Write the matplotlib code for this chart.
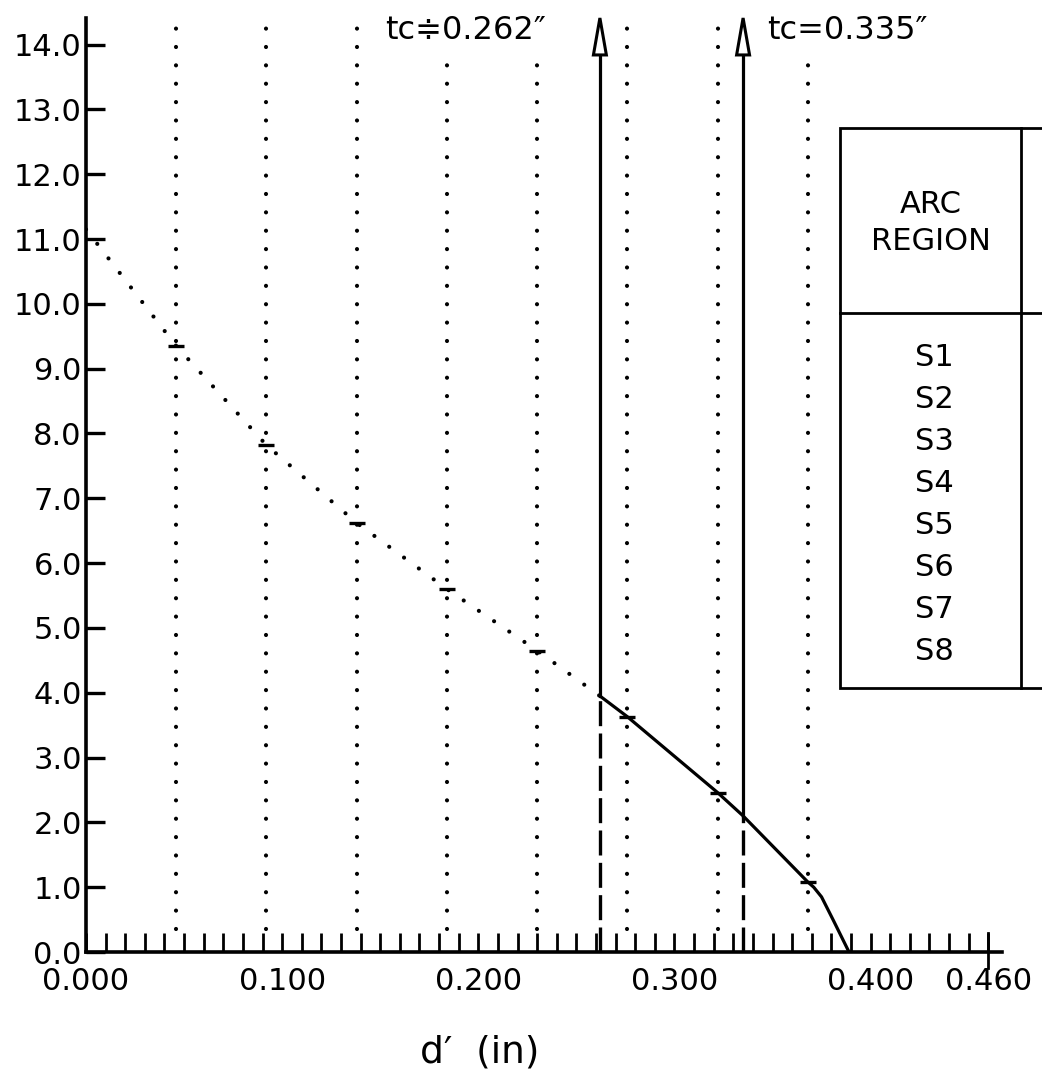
import matplotlib
matplotlib.use("Agg")
import matplotlib.pyplot as plt
from matplotlib.patches import Polygon, Rectangle
import numpy as np

plt.rcParams['font.family'] = ['DejaVu Sans']

# ---- data ----
region_labels = ["S1", "S2", "S3", "S4", "S5", "S6", "S7", "S8"]
boundary_x = [0.046, 0.092, 0.138, 0.184, 0.230, 0.276, 0.322, 0.368]
boundary_y = [9.35, 7.82, 6.62, 5.60, 4.65, 3.63, 2.46, 1.08]

# extrapolated (dotted) part of curve
dotted_x = [0.000, 0.046, 0.092, 0.138, 0.184, 0.230, 0.262]
dotted_y = [11.15, 9.35, 7.82, 6.62, 5.60, 4.65, 3.95]
# solid part of curve
solid_x = [0.262, 0.276, 0.322, 0.335, 0.368, 0.371, 0.375, 0.381, 0.389]
solid_y = [3.95, 3.63, 2.46, 2.10, 1.08, 1.00, 0.85, 0.49, 0.00]

tc_values = [0.262, 0.335]
tc_curve_y = [3.95, 2.10]
tc_labels = ["tc\u22510.262\u2033", "tc=0.335\u2033"]

y_ticks = list(range(0, 15))
x_label_ticks = [0.000, 0.100, 0.200, 0.300, 0.400, 0.460]
x_minor_ticks = [round(0.01 * i, 2) for i in range(1, 46)]

# ---- figure ----
W, H = 1042, 1075
fig = plt.figure(figsize=(W / 100, H / 100), dpi=100)
ax = fig.add_axes([86 / W, (H - 952) / H, 916 / W, 934 / H])
XMAX, YMAX = 0.467, 14.41
ax.set_xlim(0, XMAX)
ax.set_ylim(0, YMAX)

for s in ("top", "right"):
    ax.spines[s].set_visible(False)
for s in ("left", "bottom"):
    ax.spines[s].set_linewidth(2.6)

dot_style = dict(color="black", lw=3.0, ls=(0, (0.01, 4.4)), dash_capstyle="round")

# vertical dotted region lines
for xv in boundary_x:
    ax.plot([xv, xv], [0.35, YMAX], zorder=1, **dot_style)

# dotted extrapolated curve
ax.plot(dotted_x, dotted_y, zorder=2, **dot_style)
# solid curve
ax.plot(solid_x, solid_y, color="black", lw=2.3, zorder=3, solid_joinstyle="round")
# boundary marks
ax.plot(boundary_x, boundary_y, ls="none", marker="_", ms=12, mew=2.4,
        color="black", zorder=4)

# tc lines with arrows
head_len = 0.57
head_hw = 0.0033
for xv, yc in zip(tc_values, tc_curve_y):
    ax.plot([xv, xv], [0, yc], color="black", lw=2.4,
            ls=(0, (7.5, 2.2)), zorder=3)
    ax.plot([xv, xv], [yc, YMAX - head_len], color="black", lw=2.3, zorder=3)
    tri = Polygon([[xv, YMAX], [xv - head_hw, YMAX - head_len],
                   [xv + head_hw, YMAX - head_len]], closed=True,
                  facecolor="white", edgecolor="black", lw=2.2, zorder=5,
                  clip_on=False)
    ax.add_patch(tri)

# tc labels
text_x = [0.1525, 0.3473]
for tx, lab in zip(text_x, tc_labels):
    ax.text(tx, 14.21, lab, fontsize=23, ha="left", va="center", zorder=6,
            bbox=dict(facecolor="white", edgecolor="none", pad=5),
            clip_on=False)

# ---- table ----
tbl_left, tbl_div, tbl_right = 0.3845, 0.4768, 0.62
tbl_top, tbl_mid, tbl_bot = 12.72, 9.86, 4.07
ax.add_patch(Rectangle((tbl_left, tbl_bot), tbl_right - tbl_left, tbl_top - tbl_bot,
                       facecolor="white", edgecolor="black", lw=2.0, zorder=7,
                       clip_on=False))
ax.plot([tbl_left, tbl_right], [tbl_mid, tbl_mid], color="black", lw=2.0,
        zorder=8, clip_on=False)
ax.plot([tbl_div, tbl_div], [tbl_bot, tbl_top], color="black", lw=2.0,
        zorder=8, clip_on=False)
tbl_cx = (tbl_left + tbl_div) / 2
ax.text(tbl_cx, 11.25, "ARC\nREGION", ha="center", va="center", fontsize=22,
        linespacing=1.35, zorder=9)
row_step = 0.648
for i, lab in enumerate(region_labels):
    ax.text(tbl_cx + 0.002, 9.17 - i * row_step, lab, ha="center", va="center",
            fontsize=22, zorder=9)

# ---- ticks ----
ax.set_yticks(y_ticks)
ax.set_yticklabels([f"{v:.1f}" for v in y_ticks])
ax.tick_params(axis="y", direction="in", length=13.5, width=2.4, pad=3,
               labelsize=22)
ax.set_xticks(x_label_ticks)
ax.set_xticklabels([f"{v:.3f}" for v in x_label_ticks])
ax.set_xticks(x_minor_ticks, minor=True)
ax.tick_params(axis="x", which="both", direction="in", length=14, width=2.0,
               pad=11, labelsize=22)
# end tick at 0.460 crossing the axis
ax.plot([0.46, 0.46], [-0.25, 0.3], color="black", lw=2.0, clip_on=False)

ax.set_xlabel("d\u2032  (in)", fontsize=27)
ax.xaxis.set_label_coords((480 - 86) / 916, -(1052 - 952) / 934)
ax.xaxis.label.set_va("center")

fig.savefig("out.png", dpi=100, facecolor="white")
